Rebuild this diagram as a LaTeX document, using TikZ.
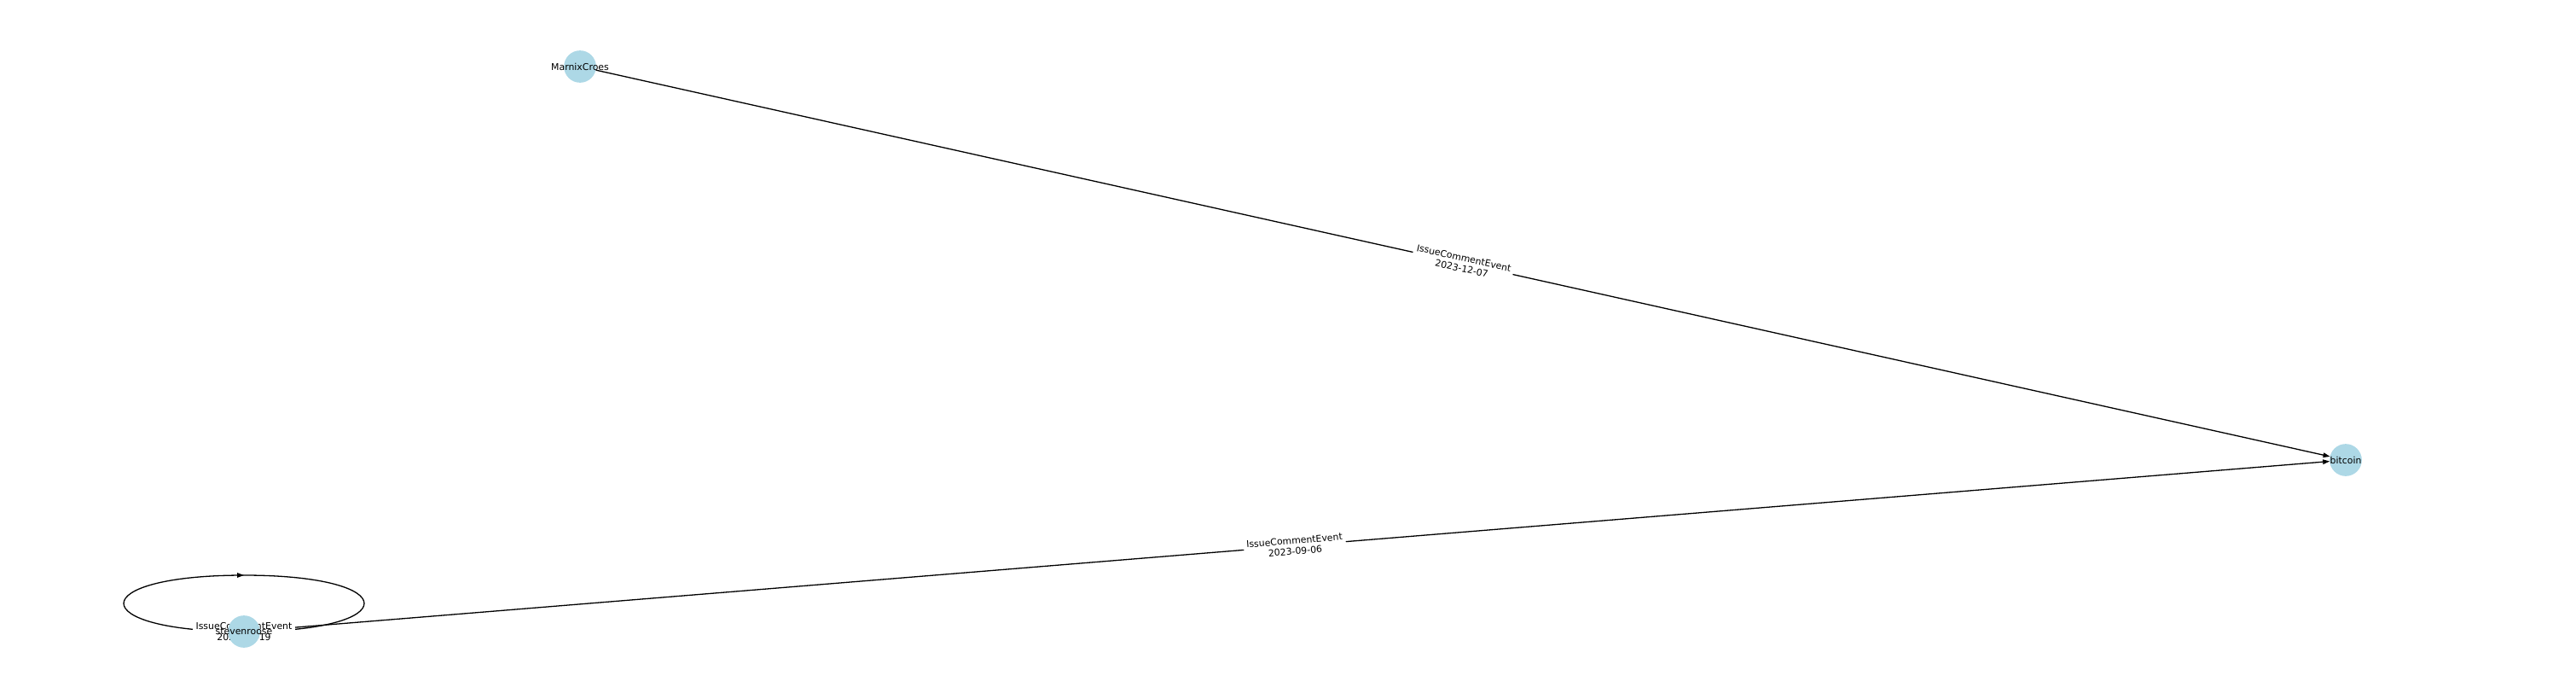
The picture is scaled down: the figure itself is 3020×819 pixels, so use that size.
\documentclass[tikz,border=0pt]{standalone}
\usepackage{fontspec}
\setmainfont{DejaVu Sans}
\usetikzlibrary{arrows.meta,backgrounds,decorations.markings}

\definecolor{nodeblue}{HTML}{ADD8E6}

\tikzset{%
  every account/.style={
    circle,
    fill=nodeblue,
    inner sep=0pt,
    outer sep=0pt,
    minimum size=37.7pt
  },
  event edge/.style={
    line width=1.3pt
  },
  event label/.style={
    fill=white,
    inner sep=3.5pt,
    align=center
  },
  self loop/.style={
    event edge,
    postaction={decorate},
    decoration={markings, mark=at position 0.5 with {\arrow{>}}}
  },
}

\begin{document}
\begin{tikzpicture}[x=1pt, y=-1pt, >={Triangle[length=8pt,width=5.5pt]},
    font=\fontsize{10.9}{12.5}\selectfont]

    \useasboundingbox (0,0) rectangle (3020,819);

    \foreach \m/\x/\y in {MarnixCroes/680/78, bitcoin/2750/539, stevenroose/286/740}
      \node [every account, label=center:\m] (acct-\m) at (\x,\y) {};

    \begin{scope}[on background layer]
      \draw [event edge, ->] (acct-MarnixCroes) -- (acct-bitcoin)
        node [event label, midway, sloped] {IssueCommentEvent\\2023-12-07};

      \draw [event edge, ->] (acct-stevenroose) -- (acct-bitcoin)
        node [event label, midway, sloped] {IssueCommentEvent\\2023-09-06};

      \draw [self loop] (acct-stevenroose.center)
        .. controls +(-188,0) and +(-188,0) .. ([yshift=66pt]acct-stevenroose.center)
        .. controls +(188,0) and +(188,0) .. (acct-stevenroose.center);

      \node [event label] (loop-label) at (acct-stevenroose) {IssueCommentEvent\\2023-10-19};
    \end{scope}

\end{tikzpicture}
\end{document}
